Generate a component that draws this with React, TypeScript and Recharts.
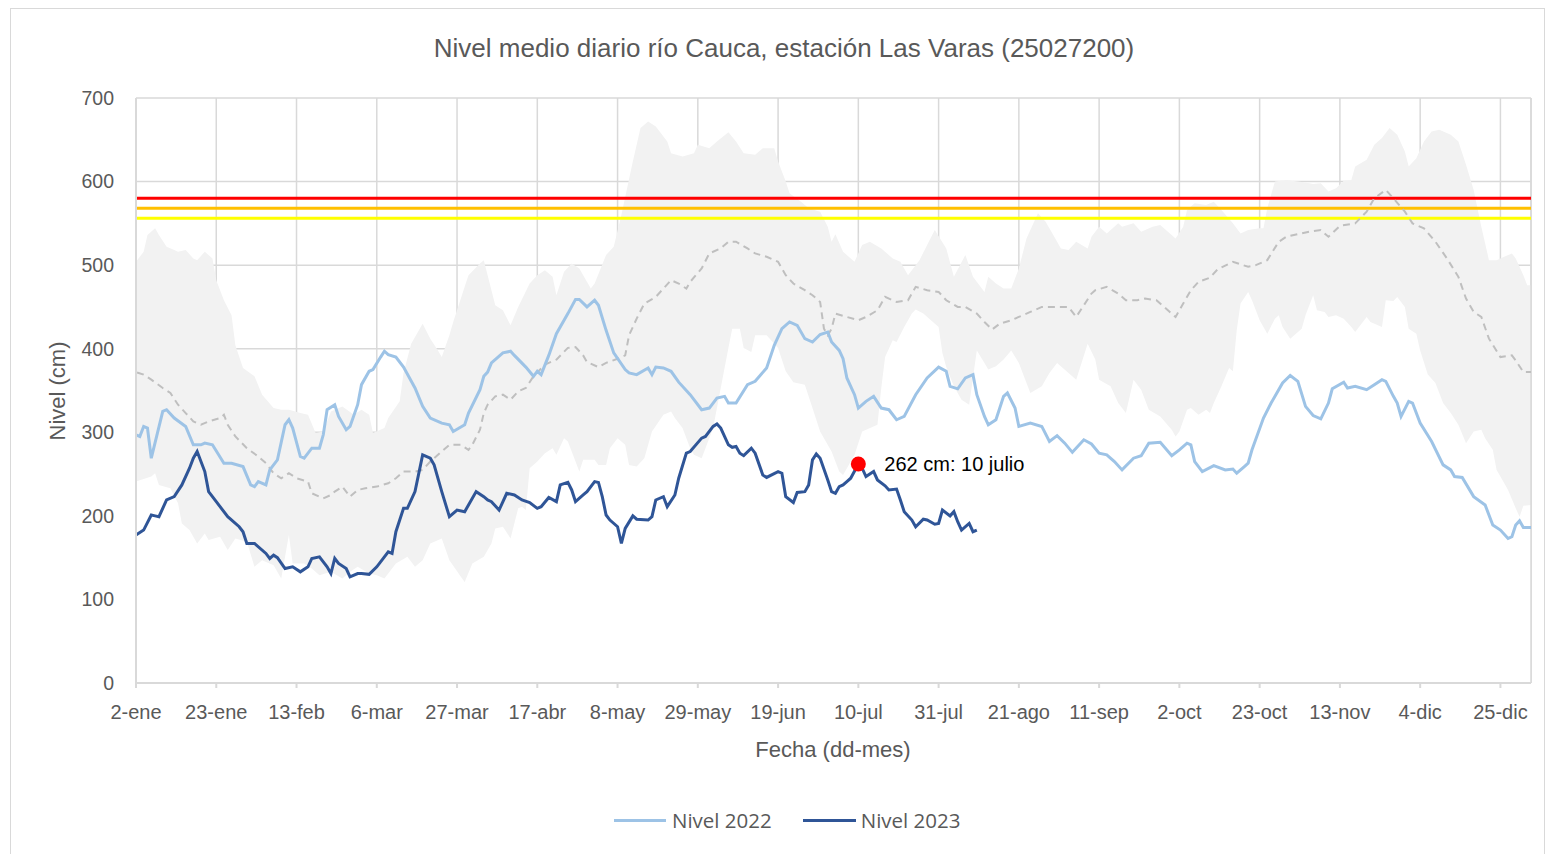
import React from "react";
import {
  ComposedChart, Area, Line, XAxis, YAxis, CartesianGrid,
  ReferenceLine, ReferenceDot,
} from "recharts";

// ── Datos (día 0 = 2-ene) ────────────────────────────────────────────────────

const etiquetasFecha = [
  "2-ene", "23-ene", "13-feb", "6-mar", "27-mar", "17-abr", "8-may", "29-may", "19-jun",
  "10-jul", "31-jul", "21-ago", "11-sep", "2-oct", "23-oct", "13-nov", "4-dic", "25-dic",
];
const diasEtiqueta = etiquetasFecha.map((_, i) => i * 21);
const nivelesEje = [0, 100, 200, 300, 400, 500, 600, 700];

// umbrales de alerta (cm)
const umbralRojo = 580;
const umbralNaranja = 568;
const umbralAmarillo = 556;

// punto destacado
const diaMarcador = 189;
const valorMarcador = 262;
const textoMarcador = "262 cm: 10 julio";

const nivel2022: [number, number][] = [
  [0, 297], [1, 295], [2, 307], [3, 305], [4, 269], [7, 325], [8, 327], [10, 317], [13, 307], [15, 285],
  [17, 285], [18, 287], [20, 285], [23, 263], [25, 263], [28, 259], [30, 237], [31, 235], [32, 241], [34, 237],
  [35, 255], [37, 267], [39, 309], [40, 315], [41, 305], [43, 271], [44, 269], [46, 281], [48, 281], [49, 297],
  [50, 327], [52, 333], [53, 319], [55, 303], [56, 307], [58, 333], [59, 357], [61, 373], [62, 375], [64, 390],
  [65, 397], [66, 393], [68, 390], [70, 378], [73, 353], [75, 331], [77, 317], [80, 311], [82, 309], [83, 301],
  [86, 309], [87, 323], [90, 351], [91, 367], [92, 372], [93, 383], [96, 395], [98, 397], [99, 392], [102, 378],
  [104, 367], [105, 373], [106, 369], [108, 392], [110, 418], [113, 442], [115, 459], [116, 459], [118, 450], [120, 458],
  [121, 452], [123, 422], [125, 395], [128, 375], [129, 371], [131, 369], [134, 377], [135, 369], [136, 378], [138, 377],
  [140, 373], [142, 360], [145, 345], [148, 327], [150, 329], [152, 341], [154, 343], [155, 335], [157, 335], [160, 357],
  [162, 361], [165, 377], [167, 404], [169, 424], [171, 432], [173, 428], [175, 412], [177, 408], [179, 417], [181, 420],
  [182, 408], [184, 398], [185, 388], [186, 365], [188, 345], [189, 329], [191, 337], [193, 343], [195, 329], [197, 327],
  [199, 315], [201, 319], [204, 345], [207, 365], [210, 378], [212, 373], [213, 355], [215, 352], [217, 365], [219, 369],
  [220, 345], [222, 319], [223, 309], [225, 315], [227, 343], [228, 347], [230, 329], [231, 307], [234, 311], [237, 307],
  [239, 289], [241, 296], [243, 287], [245, 276], [248, 291], [250, 286], [252, 275], [254, 273], [256, 265], [258, 255],
  [261, 269], [263, 272], [265, 287], [268, 288], [271, 272], [273, 279], [275, 287], [276, 285], [277, 265], [279, 253],
  [282, 260], [285, 255], [287, 256], [288, 251], [290, 259], [291, 263], [292, 279], [295, 317], [297, 335], [300, 359],
  [302, 368], [304, 361], [306, 331], [308, 320], [310, 316], [312, 335], [313, 352], [316, 360], [317, 353], [319, 355],
  [322, 351], [324, 357], [326, 363], [327, 361], [329, 343], [330, 335], [331, 319], [333, 337], [334, 335], [336, 311],
  [339, 289], [342, 261], [344, 255], [345, 247], [347, 246], [350, 223], [353, 213], [355, 189], [357, 183], [359, 173],
  [360, 175], [361, 189], [362, 194], [363, 186], [365, 186],
];

const nivel2023: [number, number][] = [
  [0, 177], [2, 183], [4, 201], [5, 200], [6, 199], [8, 219], [10, 223], [12, 237], [14, 257], [15, 269],
  [16, 277], [18, 253], [19, 229], [21, 217], [24, 199], [27, 187], [28, 181], [29, 167], [31, 167], [34, 155],
  [35, 149], [36, 153], [37, 150], [39, 137], [41, 139], [43, 133], [45, 139], [46, 149], [48, 151], [50, 139],
  [51, 131], [52, 149], [53, 143], [55, 137], [56, 127], [58, 131], [59, 131], [61, 130], [63, 139], [66, 157],
  [67, 155], [68, 181], [70, 209], [71, 209], [73, 229], [75, 273], [77, 269], [78, 261], [80, 229], [82, 199],
  [84, 207], [86, 205], [87, 213], [89, 229], [91, 223], [92, 219], [93, 217], [95, 207], [97, 227], [99, 225],
  [101, 219], [103, 216], [105, 209], [106, 211], [108, 222], [110, 217], [111, 237], [113, 240], [114, 231], [115, 217],
  [117, 225], [118, 229], [120, 241], [121, 240], [122, 223], [123, 201], [124, 195], [126, 187], [127, 167], [128, 185],
  [130, 200], [131, 196], [134, 195], [135, 199], [136, 219], [138, 223], [139, 211], [141, 225], [142, 245], [144, 275],
  [145, 277], [148, 293], [149, 295], [151, 307], [152, 310], [153, 305], [155, 285], [156, 282], [157, 283], [158, 275],
  [159, 272], [161, 281], [162, 275], [164, 249], [165, 246], [168, 253], [169, 251], [170, 223], [172, 216], [173, 228],
  [175, 229], [176, 237], [177, 267], [178, 274], [179, 269], [181, 243], [182, 229], [183, 227], [184, 235], [185, 237],
  [186, 241], [187, 245], [189, 262], [190, 257], [191, 247], [193, 253], [194, 243], [196, 236], [197, 231], [199, 232],
  [200, 219], [201, 205], [203, 195], [204, 187], [206, 196], [207, 195], [209, 190], [210, 191], [211, 207], [213, 200],
  [214, 205], [215, 193], [216, 183], [218, 191], [219, 181], [220, 183],
];

const nivelMaximo: [number, number][] = [
  [0, 504], [2, 516], [3, 536], [5, 544], [6, 536], [8, 522], [10, 518], [11, 516], [13, 518], [15, 508],
  [16, 506], [18, 516], [20, 508], [21, 482], [23, 458], [25, 440], [26, 404], [28, 377], [31, 367], [33, 345],
  [36, 329], [38, 327], [40, 327], [43, 323], [45, 321], [47, 299], [49, 301], [51, 325], [54, 331], [57, 321],
  [59, 327], [61, 321], [62, 299], [65, 305], [66, 317], [69, 337], [70, 371], [72, 406], [75, 430], [77, 412],
  [79, 398], [80, 390], [82, 416], [83, 432], [86, 474], [87, 488], [90, 502], [91, 506], [92, 488], [94, 452],
  [96, 446], [98, 428], [100, 450], [103, 478], [105, 488], [107, 494], [109, 486], [110, 464], [112, 492], [114, 502],
  [116, 496], [119, 472], [120, 478], [123, 512], [125, 522], [127, 560], [130, 624], [132, 664], [134, 672], [136, 666],
  [139, 648], [140, 634], [143, 630], [146, 634], [147, 644], [150, 640], [152, 648], [155, 659], [157, 648], [159, 634],
  [162, 632], [164, 640], [167, 640], [168, 624], [170, 600], [171, 586], [174, 576], [176, 568], [179, 564], [181, 546],
  [182, 528], [183, 537], [185, 516], [188, 504], [190, 524], [192, 528], [195, 520], [198, 508], [200, 504], [202, 488],
  [205, 506], [207, 524], [209, 542], [212, 520], [214, 486], [217, 512], [219, 486], [222, 468], [223, 486], [225, 478],
  [227, 472], [229, 472], [231, 496], [233, 532], [236, 562], [238, 552], [240, 536], [242, 520], [244, 518], [246, 528],
  [249, 520], [250, 534], [252, 546], [254, 538], [257, 550], [258, 546], [261, 550], [263, 540], [266, 546], [268, 548],
  [270, 540], [272, 532], [274, 546], [275, 566], [277, 574], [280, 572], [282, 576], [284, 566], [287, 550], [289, 538],
  [291, 542], [294, 544], [295, 544], [296, 568], [298, 600], [301, 602], [304, 600], [306, 599], [308, 597], [310, 598],
  [312, 588], [314, 592], [316, 601], [318, 602], [319, 618], [322, 626], [324, 644], [326, 652], [328, 664], [330, 656],
  [332, 636], [333, 618], [335, 628], [337, 648], [339, 660], [341, 662], [344, 656], [346, 648], [348, 620], [350, 590],
  [352, 546], [354, 506], [356, 506], [358, 510], [360, 514], [361, 508], [363, 488], [364, 476], [365, 476],
];

const nivelMinimo: [number, number][] = [
  [0, 241], [4, 247], [5, 251], [6, 237], [9, 233], [11, 215], [12, 191], [14, 183], [16, 167], [18, 179],
  [19, 171], [22, 175], [24, 159], [26, 173], [29, 169], [31, 139], [33, 147], [36, 141], [38, 125], [40, 177],
  [41, 143], [44, 143], [46, 137], [48, 129], [51, 133], [54, 125], [56, 133], [58, 139], [61, 131], [63, 129],
  [65, 125], [68, 143], [71, 151], [73, 139], [75, 147], [77, 167], [80, 173], [82, 147], [85, 127], [86, 121],
  [88, 143], [91, 151], [93, 167], [94, 185], [96, 187], [98, 173], [100, 209], [101, 211], [102, 207], [103, 257],
  [105, 265], [107, 275], [109, 281], [110, 273], [112, 293], [113, 289], [115, 265], [116, 253], [117, 267], [120, 267],
  [121, 261], [123, 261], [124, 281], [126, 293], [128, 285], [129, 261], [131, 259], [133, 269], [135, 301], [138, 321],
  [140, 325], [141, 317], [143, 305], [145, 281], [146, 273], [148, 269], [149, 281], [151, 305], [153, 353], [155, 401],
  [156, 424], [158, 424], [159, 401], [161, 396], [162, 416], [165, 416], [168, 401], [170, 373], [172, 360], [175, 357],
  [177, 329], [179, 301], [182, 277], [184, 253], [185, 249], [188, 273], [190, 301], [194, 309], [195, 353], [196, 390],
  [198, 410], [199, 408], [201, 426], [203, 442], [204, 447], [206, 442], [208, 434], [210, 426], [211, 395], [212, 378],
  [214, 355], [216, 339], [218, 333], [220, 398], [222, 383], [223, 375], [225, 379], [227, 387], [229, 398], [231, 383],
  [234, 347], [237, 355], [239, 371], [241, 383], [244, 371], [246, 363], [249, 406], [251, 387], [252, 363], [255, 355],
  [257, 335], [259, 323], [261, 363], [263, 351], [265, 327], [268, 319], [271, 303], [272, 295], [273, 301], [275, 327],
  [276, 329], [278, 321], [280, 327], [281, 323], [282, 335], [284, 355], [286, 377], [287, 373], [288, 422], [289, 454],
  [291, 468], [292, 458], [294, 434], [296, 418], [298, 436], [299, 440], [300, 426], [302, 412], [305, 424], [306, 440],
  [308, 464], [309, 446], [311, 444], [312, 438], [314, 440], [316, 436], [318, 426], [319, 420], [322, 438], [323, 432],
  [326, 426], [327, 458], [329, 457], [330, 462], [332, 450], [333, 424], [335, 418], [336, 398], [338, 369], [340, 359],
  [342, 335], [344, 323], [346, 309], [348, 287], [350, 301], [352, 303], [353, 293], [355, 279], [356, 255], [357, 247],
  [359, 231], [361, 209], [362, 199], [363, 212], [365, 213],
];

const nivelMedio: [number, number][] = [
  [0, 0], [0, 372], [2, 369], [4, 363], [7, 353], [9, 347], [11, 333], [13, 323], [15, 313], [17, 309],
  [19, 313], [22, 317], [23, 321], [24, 309], [26, 295], [29, 281], [32, 271], [34, 263], [36, 251], [38, 245],
  [40, 251], [42, 245], [45, 241], [46, 227], [49, 221], [51, 225], [52, 229], [54, 235], [56, 223], [58, 231],
  [60, 233], [63, 235], [66, 239], [68, 245], [70, 253], [73, 253], [75, 255], [77, 265], [80, 277], [82, 285],
  [85, 285], [87, 279], [88, 285], [90, 303], [91, 323], [92, 333], [94, 343], [96, 345], [98, 339], [100, 349],
  [102, 353], [104, 367], [107, 381], [110, 387], [113, 401], [115, 402], [117, 392], [118, 384], [121, 378], [123, 383],
  [126, 388], [128, 392], [129, 416], [131, 436], [133, 454], [136, 462], [138, 472], [140, 482], [142, 478], [144, 472],
  [145, 480], [148, 496], [150, 514], [153, 520], [155, 528], [157, 528], [160, 520], [162, 514], [165, 510], [168, 504],
  [170, 488], [172, 478], [175, 470], [177, 464], [179, 456], [180, 424], [181, 416], [182, 424], [183, 442], [186, 438],
  [189, 434], [191, 438], [194, 446], [196, 462], [199, 456], [202, 458], [204, 474], [207, 470], [210, 468], [212, 458],
  [215, 450], [217, 450], [220, 442], [222, 432], [224, 423], [226, 430], [229, 434], [231, 438], [234, 444], [237, 450],
  [239, 450], [242, 450], [244, 450], [246, 438], [248, 452], [250, 466], [251, 470], [254, 474], [257, 466], [259, 458],
  [262, 458], [264, 460], [267, 458], [270, 446], [272, 438], [274, 454], [276, 470], [278, 480], [281, 485], [283, 495],
  [287, 504], [291, 498], [293, 500], [296, 506], [299, 528], [301, 534], [304, 537], [307, 540], [310, 542], [312, 534],
  [315, 547], [319, 550], [322, 564], [324, 580], [327, 590], [329, 580], [332, 564], [334, 550], [337, 544], [340, 528],
  [343, 508], [346, 486], [348, 460], [350, 444], [352, 438], [354, 412], [357, 390], [360, 392], [361, 386], [363, 372],
  [365, 372],
];

const aPuntos = (serie: [number, number][]) => serie.map(([dia, valor]) => ({ dia, valor }));

// ── Estilos ──────────────────────────────────────────────────────────────────

const FUENTE = "'Liberation Sans', Arial, sans-serif";
const GRIS_TEXTO = "#595959";
const GRIS_REJILLA = "#d9d9d9";
const AZUL_CLARO = "#9dc3e6";
const AZUL_OSCURO = "#2f5597";

function MarcadorNivel(props: { cx?: number; cy?: number }) {
  const { cx = 0, cy = 0 } = props;
  return (
    <g>
      <circle cx={cx} cy={cy} r={7.5} fill="#ff0000" />
      <text x={cx + 26} y={cy} dy="0.35em" fontFamily={FUENTE} fontSize={20} fill="#000">
        {textoMarcador}
      </text>
    </g>
  );
}

export default function App() {
  return (
    <div style={{ position: "absolute", left: 0, top: 0, width: 1547, height: 854, background: "#fff", fontFamily: FUENTE, overflow: "hidden" }}>
      <div style={{ position: "absolute", left: 10, top: 8, width: 1535, height: 860, border: `1px solid ${GRIS_REJILLA}`, boxSizing: "border-box" }} />

      <div style={{ position: "absolute", left: 0, top: 32, width: 1568, textAlign: "center", fontSize: 26, lineHeight: "32px", color: GRIS_TEXTO }}>
        Nivel medio diario río Cauca, estación Las Varas (25027200)
      </div>

      <div style={{ position: "absolute", left: 0, top: 0 }}>
        <ComposedChart width={1547} height={854} margin={{ top: 98, right: 16, bottom: 141, left: 76 }}>
          <CartesianGrid stroke={GRIS_REJILLA} strokeWidth={1.5} />
          <XAxis
            dataKey="dia" type="number" domain={[0, 365]} ticks={diasEtiqueta}
            tickFormatter={(v) => etiquetasFecha[diasEtiqueta.indexOf(v)] ?? ""}
            tick={{ fill: GRIS_TEXTO, fontSize: 20, fontFamily: FUENTE }}
            stroke={GRIS_REJILLA} strokeWidth={2} tickSize={5} tickMargin={17} height={30}
            interval={0} allowDuplicatedCategory={false}
          />
          <YAxis
            type="number" domain={[0, 700]} ticks={nivelesEje}
            tick={{ fill: GRIS_TEXTO, fontSize: 19.5, fontFamily: FUENTE }}
            stroke={GRIS_REJILLA} strokeWidth={2} tickLine={false} tickSize={0} tickMargin={22} width={60}
          />

          {/* banda histórica: máximo en gris y mínimo en blanco encima */}
          <Area data={aPuntos(nivelMaximo)} dataKey="valor" type="linear" stroke="none" fill="#f2f2f2" fillOpacity={1} isAnimationActive={false} />
          <Area data={aPuntos(nivelMinimo)} dataKey="valor" type="linear" stroke="none" fill="#ffffff" fillOpacity={1} isAnimationActive={false} />

          <ReferenceLine x={365} stroke={GRIS_REJILLA} strokeWidth={1.5} />
          <ReferenceLine y={umbralAmarillo} stroke="#ffff00" strokeWidth={3} />
          <ReferenceLine y={umbralNaranja} stroke="#ffc000" strokeWidth={3} />
          <ReferenceLine y={umbralRojo} stroke="#ff0000" strokeWidth={3} />

          <Line data={aPuntos(nivelMedio)} dataKey="valor" type="linear" stroke="#bfbfbf" strokeWidth={2} strokeDasharray="7 5" dot={false} isAnimationActive={false} />
          <Line data={aPuntos(nivel2022)} dataKey="valor" name="Nivel 2022" type="linear" stroke={AZUL_CLARO} strokeWidth={3} dot={false} isAnimationActive={false} />
          <Line data={aPuntos(nivel2023)} dataKey="valor" name="Nivel 2023" type="linear" stroke={AZUL_OSCURO} strokeWidth={3} dot={false} isAnimationActive={false} />

          <ReferenceDot x={diaMarcador} y={valorMarcador} shape={(p: { cx?: number; cy?: number }) => <MarcadorNivel {...p} />} />
        </ComposedChart>
      </div>

      {/* títulos de ejes */}
      <div style={{ position: "absolute", left: 633, top: 736, width: 400, textAlign: "center", fontSize: 22, lineHeight: "28px", color: GRIS_TEXTO }}>
        Fecha (dd-mes)
      </div>
      <div style={{ position: "absolute", left: 58 - 100, top: 391 - 14, width: 200, textAlign: "center", fontSize: 22, lineHeight: "28px", color: GRIS_TEXTO, transform: "rotate(-90deg)" }}>
        Nivel (cm)
      </div>

      {/* leyenda */}
      <div style={{ position: "absolute", left: 614, top: 805, display: "flex", alignItems: "center", fontFamily: "'Open Sans', sans-serif", fontSize: 20.5, color: GRIS_TEXTO, lineHeight: "30px" }}>
        <span style={{ display: "inline-block", width: 52, height: 3, background: AZUL_CLARO, marginRight: 6 }} />
        <span>Nivel 2022</span>
        <span style={{ display: "inline-block", width: 53, height: 3, background: AZUL_OSCURO, marginLeft: 31, marginRight: 5 }} />
        <span>Nivel 2023</span>
      </div>
    </div>
  );
}
